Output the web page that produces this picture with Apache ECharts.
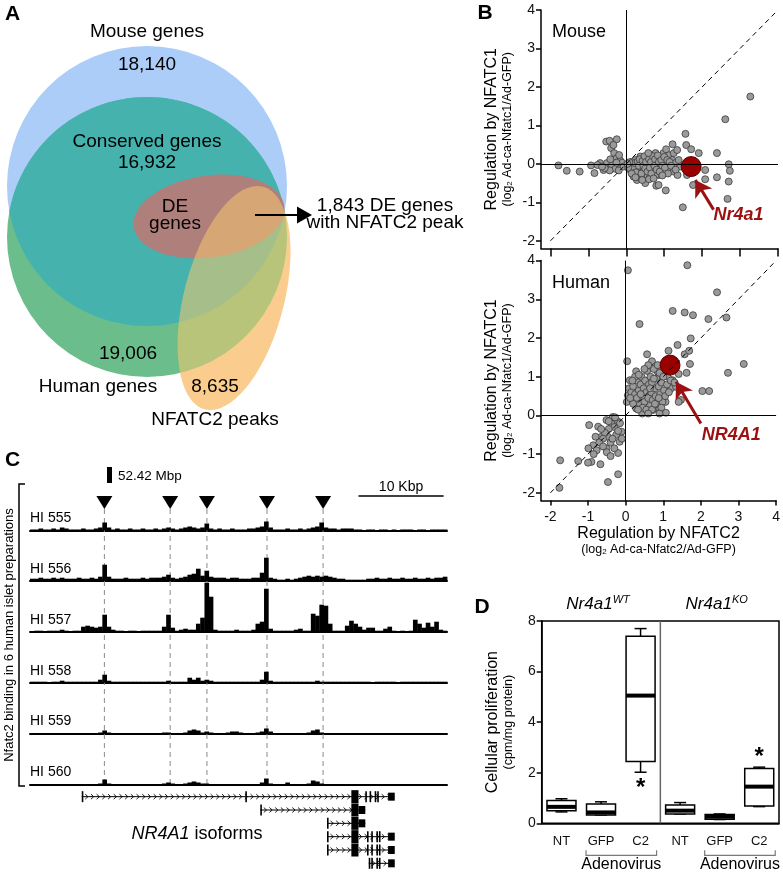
<!DOCTYPE html>
<html><head><meta charset="utf-8">
<script src="https://cdn.jsdelivr.net/npm/echarts@6/dist/echarts.min.js"></script>
<style>html,body{margin:0;padding:0;background:#fff}#c{width:783px;height:875px}</style>
</head><body><div id="c"></div>
<script>
// ---------------- DATA ----------------
// Panel A (Venn)
const vennNames = ['Mouse genes', 'Conserved genes', 'Human genes', 'NFATC2 peaks', 'DE genes'];
const vennCounts = ['18,140', '16,932', '19,006', '8,635'];
const deWithPeak = '1,843';

// Panel B: [NFATC2 log2FC, NFATC1 log2FC]
const mousePts = [
[-1.79,-0.04],[-1.57,-0.18],[-1.23,-0.20],[-0.93,-0.04],[-0.84,-0.24],[-0.69,0.02],[-0.60,-0.16],[-0.53,0.58],[-0.44,0.60],[-0.25,0.64],
[-0.40,0.41],[-0.32,0.28],[-0.25,0.15],[-0.16,0.09],[-0.51,0.02],[-0.38,-0.04],[-0.29,-0.13],[-0.16,-0.03],[-0.20,-0.17],[-0.11,0.03],
[-0.44,-0.17],[-0.57,-0.11],[-0.07,-0.07],[-0.76,-0.03],[-0.64,-0.07],[-0.42,0.12],[-0.26,0.03],[-0.19,0.23],[-0.34,0.49],
[0.15,-0.03],[0.24,0.10],[0.28,-0.11],[0.37,0.19],[0.41,0.02],[0.46,-0.16],[0.53,0.15],[0.59,-0.03],[0.63,0.23],[0.68,-0.16],
[0.72,0.10],[0.77,0.28],[0.81,-0.03],[0.85,-0.29],[0.90,0.15],[0.94,-0.11],[0.98,0.28],[1.06,0.02],[1.12,0.23],[1.16,-0.16],
[1.21,0.10],[0.19,-0.33],[0.28,-0.42],[0.37,-0.37],[0.50,-0.50],[0.55,-0.29],[0.77,-0.29],[0.79,-0.57],[0.85,-0.55],[1.04,-0.69],
[0.21,-0.20],[0.32,-0.26],[0.63,-0.33],[0.11,-0.16],[0.09,-0.05],[1.25,0.28],[1.29,0.02],[1.34,0.36],[1.22,0.51],[1.38,0.10],
[1.42,-0.07],[1.56,0.78],[1.58,0.49],[1.71,0.38],[1.91,0.28],[2.39,0.28],[2.61,1.16],[1.25,-0.20],[1.35,-0.29],[1.60,-0.29],
[1.76,-0.55],[2.08,-0.16],[2.08,-0.40],[2.39,-0.35],[2.70,-0.01],[2.73,-0.18],[2.70,-0.46],[2.67,-0.91],[1.49,-1.13],[3.27,1.75],
[0.12,0.05],[0.18,-0.08],[0.22,0.02],[0.26,-0.22],[0.30,0.06],[0.33,-0.05],[0.35,0.12],[0.40,-0.25],[0.43,0.08],[0.45,-0.05],
[0.48,0.20],[0.50,-0.12],[0.52,0.05],[0.56,-0.20],[0.60,0.12],[0.62,-0.10],[0.65,0.05],[0.66,-0.25],[0.70,0.20],[0.74,-0.05],
[0.76,0.12],[0.80,-0.15],[0.83,0.22],[0.86,0.05],[0.88,-0.20],[0.92,0.10],[0.95,-0.05],[1.00,0.18],[1.02,-0.10],[1.08,0.10],
[1.10,-0.25],[1.14,0.05],[1.18,-0.05],[1.30,-0.15],[0.14,-0.25],[0.24,-0.35],[0.42,-0.42],[0.60,-0.40],[0.72,-0.38],[0.95,-0.30],
[1.05,0.38],[0.58,0.28],[0.05,-0.10],[0.08,0.04],[0.03,0.00]
];
const mouseHit = [[1.71,-0.07]];
const humanPts = [
[1.25,2.70],[1.57,2.66],[1.79,2.59],[2.20,2.49],[2.68,2.53],[0.37,2.36],[1.73,1.99],[1.38,1.82],[0.57,1.58],[1.14,1.67],
[1.57,1.58],[1.69,1.67],[0.04,1.40],[0.70,1.40],[0.79,1.26],[1.71,1.33],[3.14,1.33],[2.72,1.10],[1.62,1.10],[1.41,1.07],
[0.28,1.14],[0.85,1.13],[2.04,0.63],[2.22,0.63],[1.47,0.40],[1.41,0.35],[0.11,0.91],[0.09,0.70],[0.06,0.52],[0.03,0.35],
[0.19,0.40],[0.28,0.18],[0.44,0.05],[0.72,0.14],[0.90,0.18],[1.07,0.07],[1.06,0.35],[1.21,0.70],[1.34,0.74],[1.25,0.91],
[1.12,1.00],[0.06,3.75],[1.64,3.88],[2.43,3.18],
[0.15,0.60],[0.20,0.75],[0.25,0.55],[0.30,0.90],[0.30,0.45],[0.35,0.65],[0.38,0.30],[0.40,0.80],[0.42,1.00],[0.45,0.50],
[0.48,0.70],[0.50,0.35],[0.52,0.90],[0.55,0.60],[0.57,1.15],[0.60,0.45],[0.62,0.80],[0.65,0.25],[0.66,1.00],[0.68,0.60],
[0.70,0.85],[0.72,0.40],[0.75,1.20],[0.78,0.70],[0.80,0.50],[0.82,0.95],[0.85,0.30],[0.88,0.75],[0.90,1.10],[0.92,0.55],
[0.95,0.85],[0.98,0.35],[1.00,1.00],[1.02,0.65],[1.05,0.50],[1.10,0.80],[1.15,0.60],[0.20,0.30],[0.25,1.00],[0.35,1.05],
[0.45,0.20],[0.55,0.15],[0.60,1.30],[0.70,0.15],[0.75,0.95],[0.85,1.30],[0.95,0.20],[0.12,0.45],[0.18,0.90],[0.40,0.55],
[0.50,1.20],[0.65,0.70],[0.78,0.30],[0.88,0.45],[1.08,1.20],[1.20,0.90],[0.33,0.15],[0.60,0.05],[0.90,0.05],[1.30,0.85],
[-0.97,-0.25],[-0.73,-0.29],[-0.51,-0.12],[-0.34,-0.04],[-0.38,-0.21],[-0.20,-0.16],[-0.11,-0.42],[-0.16,-0.68],[-0.47,-0.55],[-0.64,-0.55],
[-0.86,-0.77],[-0.99,-0.85],[-0.77,-0.90],[-0.91,-1.20],[-0.67,-1.26],[-0.51,-0.85],[-0.20,-0.97],[-1.26,-1.18],[-1.74,-1.16],[-0.20,-1.52],
[-0.47,-1.72],[-1.76,-1.87],[-0.30,-0.30],[-0.25,-0.50],[-0.45,-0.35],[-0.55,-0.45],[-0.60,-0.60],[-0.40,-0.70],[-0.30,-0.85],[-0.70,-0.70],
[-0.50,-0.95],[-0.35,-0.60],[-0.20,-0.40],[-0.15,-0.20],[-0.65,-0.35],[-0.80,-0.55],[-0.45,-0.15],[-0.28,-0.05],[-0.10,-0.60],[-0.40,-1.05],
[-0.60,-0.80],[-0.85,-1.00],[-1.00,-1.22]
];
const humanHit = [[1.18,1.30]];
const axisTicksB = [-2, -1, 0, 1, 2, 3, 4];
// arrows: [tail, tip], label position
const mouseArrow = [[2.30,-1.19],[1.82,-0.42]];
const mouseLabelAt = [2.96,-1.32];
const humanArrow = [[2.00,-0.21],[1.34,0.87]];
const humanLabelAt = [2.81,-0.51];

// Panel C: ChIP tracks, bins of 0.5 Kbp over 49 Kbp
const binKbp = 0.5;
const trackNames = ['HI 555','HI 556','HI 557','HI 558','HI 559','HI 560'];
const hi555 = [1,1,2,1,1,2,1,3,2,1, 1,1,2,1,1,2,3,8,3,1, 2,1,1,2,1,1,2,1,1,2, 1,2,3,2,1,2,3,4,3,2, 3,7,2,1,2,1,1,2,1,1,
  1,2,2,3,4,9,3,1,1,1, 2,1,1,2,1,2,3,4,8,3, 2,2,1,2,2,2,1,1,0,1, 1,0,1,1,0,1,0,1,1,1, 0,1,1,0,1,1,1,1];
const hi556 = [2,2,3,2,2,3,2,3,2,2, 2,3,2,2,3,2,4,16,4,2, 2,2,3,2,2,2,3,2,3,3, 3,4,6,3,2,3,4,6,7,12, 5,10,4,3,3,3,2,3,3,2,
  2,2,3,3,8,23,3,2,1,1, 2,1,2,3,4,5,4,5,4,5, 4,3,2,2,1,1,1,1,1,2, 2,3,2,2,3,2,2,3,2,2, 3,2,2,3,2,3,3,4];
const hi557 = [0,1,1,0,1,1,1,2,1,0, 1,1,5,6,5,4,5,17,5,2, 1,1,0,1,1,0,1,1,1,1, 1,5,17,4,1,2,3,2,2,8, 14,49,35,2,1,1,1,1,2,1,
  1,1,2,8,10,43,3,1,1,1, 1,1,2,3,1,1,18,16,27,26, 8,1,1,1,6,11,8,5,2,4, 4,1,1,3,5,1,0,1,0,1, 12,8,4,9,5,10,2,1];
const hi558 = [1,1,1,1,0,1,1,2,1,1, 1,1,1,1,1,1,3,8,2,1, 1,1,1,1,1,1,1,1,1,1, 1,1,2,1,1,1,1,5,3,5, 2,3,2,1,1,1,1,1,1,1,
  1,1,1,1,3,11,2,1,1,1, 1,1,1,1,1,1,1,2,1,1, 1,1,1,1,1,1,1,1,1,1, 0,1,1,1,1,1,0,1,1,1, 1,1,1,1,1,1,1,1];
const hi559 = [0.5,0,0.5,0.5,0,0.5,0.5,0.5,0,0.5, 0.5,0.5,0,0.5,0.5,0.5,1,3,1,0.5, 0.5,0.5,0,0.5,0.5,0,0.5,0.5,0,0.5,
  0.5,1,1,0.5,0.5,0.5,1,3,4,3, 1,2,1,0.5,0.5,0.5,1,2,2,1, 0.5,0.5,0.5,1,2,5,2,0.5,0.5,0, 0.5,0.5,0,0.5,0.5,1,3,4,1,0.5,
  0,0.5,0,0.5,0,0.5,0,0.5,0,0.5, 0,0,0.5,0,0.5,0,0,0.5,0,0, 0.5,0,0,0.5,0,0,0.5,0];
const hi560 = [0.5,0.5,0,0.5,0.5,0,0.5,0.5,0.5,0, 0.5,0.5,0.5,0,0.5,0.5,1,5,1,0.5, 0.5,0.5,0,0.5,0.5,0,0.5,0.5,0,0.5,
  0.5,1,2,1,0.5,0.5,1,2,3,2, 1,1,0.5,0.5,0.5,0.5,0.5,0.5,0.5,0.5, 0.5,0.5,0.5,0.5,2,6,1,0.5,0.5,0.5, 2,0.5,0.5,0.5,0.5,1,4,3,1,0.5,
  0,0.5,0,0.5,0,0.5,0.5,0,0.5,0, 0.5,0,0.5,0,0.5,0,0,0.5,0,0.5, 0,0.5,0.5,0,0.5,0,0.5,0];
const tracks = [hi555, hi556, hi557, hi558, hi559, hi560];
const peakKbp = [8.74, 16.47, 20.79, 27.85, 34.44];
const scaleBar = [38.6, 48.6]; // 10 Kbp
// NR4A1 isoforms (Kbp); exon kinds: c = coding, u = UTR, t = thin
const isoStart = [6.08, 27.06, 34.9, 34.9, 34.9, 39.8];
const isoEnd   = [42.8, 39.4, 39.4, 42.8, 42.8, 42.8];
const isoExons = [
  [[6.08,6.2,'t'],[25.3,25.4,'t'],[37.76,38.6,'c'],[39.4,39.5,'t'],[39.9,40.0,'t'],[40.5,40.6,'t'],[40.8,40.9,'t'],[42.08,42.86,'u']],
  [[27.06,27.16,'t'],[37.76,38.6,'c'],[38.6,39.4,'u']],
  [[34.9,35.0,'t'],[37.76,38.6,'c'],[38.6,39.4,'u']],
  [[34.9,35.0,'t'],[37.76,38.6,'c'],[39.6,39.7,'t'],[40.1,40.2,'t'],[40.7,40.8,'t'],[41.0,41.1,'t'],[42.08,42.86,'u']],
  [[34.9,35.0,'t'],[37.76,38.6,'c'],[39.6,39.7,'t'],[40.1,40.2,'t'],[40.7,40.8,'t'],[41.0,41.1,'t'],[42.08,42.86,'u']],
  [[39.8,39.9,'t'],[40.1,40.2,'t'],[40.7,40.8,'t'],[41.0,41.1,'t'],[42.08,42.86,'u']]
];

// Panel D: box plots
const boxCats = ['NT','GFP','C2','NT ','GFP ','C2 '];
const boxMin = [0.45, 0.33, 2.02, 0.37, 0.15, 0.66];
const boxQ1  = [0.50, 0.33, 2.44, 0.37, 0.16, 0.68];
const boxMed = [0.65, 0.43, 5.05, 0.50, 0.26, 1.45];
const boxQ3  = [0.90, 0.76, 7.40, 0.72, 0.35, 2.17];
const boxMax = [0.97, 0.85, 7.70, 0.82, 0.37, 2.22];
const sigY   = [null, null, 1.55, null, null, 2.75];
const genotypes = ['WT','KO'];
const groupFrom = [0, 3], groupTo = [2, 5];
const adenoFrom = [1, 4], adenoTo = [2, 5];

// ---------------- CHART ----------------
const FONT = '"Liberation Sans", Arial, Helvetica, sans-serif';
const chart = echarts.init(document.getElementById('c'), null, {renderer:'canvas'});

function T(x, y, text, size, extra) {
  return Object.assign({type:'text', x:x, y:y, silent:true,
    style: Object.assign({text:text, fontSize:size, fontFamily:FONT, fill:'#000',
      align:'center', verticalAlign:'middle', textAlign:'center', textVerticalAlign:'middle'}, (extra && extra.style) || {})},
    extra ? {rotation: extra.rotation || 0} : {});
}

const gray = {color:'#9a9a9a', borderColor:'#3a3a3a', borderWidth:0.8, opacity:1};
const red = {color:'#990000', borderColor:'#5c0000', borderWidth:1, opacity:1};
const darkRed = '#9b1010';

const trackBase = [530.5, 580.7, 631.7, 682.7, 733.5, 784.5];

const grids = [
  {left:541, top:10, width:237, height:238.5},
  {left:541, top:260.6, width:237, height:240},
  {left:541.7, top:621, width:237.3, height:202.3, show:true, borderColor:'#000', borderWidth:1.5},
];
trackBase.forEach(b => grids.push({left:30, top:b-48, width:417, height:48}));
grids.push({left:30, top:496, width:417, height:288.5});   // overlay (index 9)
grids.push({left:30, top:790, width:417, height:80});      // isoforms (index 10)

const tickLbl = {fontSize:14, color:'#111', fontFamily:FONT};
const richB = {
  a:{fontSize:16, lineHeight:18, color:'#000', fontFamily:FONT},
  b:{fontSize:12.5, lineHeight:13, color:'#000', fontFamily:FONT},
  s:{fontSize:8, lineHeight:13, color:'#000', fontFamily:FONT, verticalAlign:'bottom'}
};

const xAxes = [
  {gridIndex:0, type:'value', min:-2.25, max:4,
    axisLine:{onZero:false, lineStyle:{color:'#000', width:1.5}},
    axisTick:{customValues:axisTicksB, length:8, lineStyle:{color:'#000', width:1.5}},
    axisLabel:{show:false}, splitLine:{show:false}},
  {gridIndex:1, type:'value', min:-2.25, max:4,
    axisLine:{onZero:false, lineStyle:{color:'#000', width:1.5}},
    axisTick:{customValues:axisTicksB, length:5, lineStyle:{color:'#000', width:1.5}},
    axisLabel:Object.assign({customValues:axisTicksB, margin:10}, tickLbl), splitLine:{show:false},
    name:'{a|Regulation by NFATC2}\n{b|(log}{s|2}{b| Ad-ca-Nfatc2/Ad-GFP)}', nameLocation:'middle', nameGap:24,
    nameTextStyle:{rich:richB}},
  {gridIndex:2, type:'category', data:boxCats,
    axisLine:{lineStyle:{color:'#000', width:1.5}},
    axisTick:{alignWithLabel:true, length:4, lineStyle:{color:'#000', width:1.2}},
    axisLabel:{fontSize:13, color:'#111', margin:12, fontFamily:FONT, formatter: v => v.trim()}, splitLine:{show:false}},
];
const yAxes = [
  {gridIndex:0, type:'value', min:-2.2, max:4,
    axisLine:{onZero:false, lineStyle:{color:'#000', width:1.5}},
    axisTick:{customValues:axisTicksB, length:5, lineStyle:{color:'#000', width:1.5}},
    axisLabel:Object.assign({customValues:axisTicksB, margin:6}, tickLbl), splitLine:{show:false},
    name:'{a|Regulation by NFATC1}\n{b|(log}{s|2}{b| Ad-ca-Nfatc1/Ad-GFP)}', nameLocation:'middle', nameGap:27, nameRotate:90,
    nameTextStyle:{rich:richB}},
  {gridIndex:1, type:'value', min:-2.2, max:4,
    axisLine:{onZero:false, lineStyle:{color:'#000', width:1.5}},
    axisTick:{customValues:axisTicksB, length:5, lineStyle:{color:'#000', width:1.5}},
    axisLabel:Object.assign({customValues:axisTicksB, margin:6}, tickLbl), splitLine:{show:false},
    name:'{a|Regulation by NFATC1}\n{b|(log}{s|2}{b| Ad-ca-Nfatc1/Ad-GFP)}', nameLocation:'middle', nameGap:27, nameRotate:90,
    nameTextStyle:{rich:richB}},
  {gridIndex:2, type:'value', min:0, max:8, interval:2,
    axisLine:{show:true, lineStyle:{color:'#000', width:1.5}},
    axisTick:{show:true, length:5, lineStyle:{color:'#000', width:1.5}},
    axisLabel:Object.assign({margin:6}, tickLbl), splitLine:{show:false},
    name:'{a|Cellular proliferation}\n{b|(cpm/mg protein)}', nameLocation:'middle', nameGap:27, nameRotate:90,
    nameTextStyle:{rich:richB}},
];
for (let g = 3; g <= 8; g++) {
  xAxes.push({gridIndex:g, type:'value', min:0, max:49, axisLine:{show:true, lineStyle:{color:'#000', width:2}},
    axisTick:{show:false}, axisLabel:{show:false}, splitLine:{show:false}});
  yAxes.push({gridIndex:g, type:'value', min:0, max:48, show:false});
}
xAxes.push({gridIndex:9, type:'value', min:0, max:49, show:false});
yAxes.push({gridIndex:9, type:'value', min:0, max:1, show:false});
xAxes.push({gridIndex:10, type:'value', min:0, max:49, show:false});
yAxes.push({gridIndex:10, type:'category', data:isoStart.map((s,i)=>'iso'+i), inverse:true, show:false});

const series = [];
// ---- Panel B
function refLines(ax) {
  return {type:'line', xAxisIndex:ax, yAxisIndex:ax, data:[], z:1, silent:true,
    markLine:{silent:true, symbol:['none','none'], label:{show:false}, animation:false,
      lineStyle:{color:'#000', width:1, type:'solid'},
      data:[{xAxis:0}, {yAxis:0},
        [{coord:[-2,-2], lineStyle:{type:[5,4], color:'#000', width:1}}, {coord:[4,4]}]]}};
}
function arrowSeries(ax, arr) {
  return {type:'line', xAxisIndex:ax, yAxisIndex:ax, data:[], z:5, silent:true,
    markLine:{silent:true, symbol:['none','arrow'], symbolSize:[15,16], label:{show:false}, animation:false,
      lineStyle:{color:darkRed, width:3, type:'solid', opacity:1},
      data:[[{coord:arr[0]}, {coord:arr[1]}]]}};
}
function labelSeries(ax, at, txt) {
  return {type:'scatter', xAxisIndex:ax, yAxisIndex:ax, data:[at], symbolSize:0, z:6, silent:true, itemStyle:{opacity:1},
    label:{show:true, position:'inside', formatter:txt, color:darkRed, fontSize:18, fontWeight:'bold', fontStyle:'italic', fontFamily:FONT, opacity:1}};
}
series.push(refLines(0));
series.push({type:'scatter', xAxisIndex:0, yAxisIndex:0, data:mousePts, symbolSize:7, itemStyle:gray, z:3});
series.push({type:'scatter', xAxisIndex:0, yAxisIndex:0, data:mouseHit, symbolSize:20, itemStyle:red, z:4});
series.push(arrowSeries(0, mouseArrow));
series.push(labelSeries(0, mouseLabelAt, 'Nr4a1'));
series.push(refLines(1));
series.push({type:'scatter', xAxisIndex:1, yAxisIndex:1, data:humanPts, symbolSize:7, itemStyle:gray, z:3});
series.push({type:'scatter', xAxisIndex:1, yAxisIndex:1, data:humanHit, symbolSize:20, itemStyle:red, z:4});
series.push(arrowSeries(1, humanArrow));
series.push(labelSeries(1, humanLabelAt, 'NR4A1'));

// ---- Panel D
const boxData = boxCats.map((c,i) => [i, boxMin[i], boxQ1[i], boxMed[i], boxQ3[i], boxMax[i]]);
series.push({type:'custom', xAxisIndex:2, yAxisIndex:2, data:boxData, z:3, silent:true,
  encode:{x:0, y:[1,2,3,4,5]},
  renderItem:function(params, api){
    const i = api.value(0);
    const cx = api.coord([i, 0])[0];
    const bw = 29, cap = 12;
    const Y = v => api.coord([i, v])[1];
    const yMin = Y(api.value(1)), yQ1 = Y(api.value(2)), yMed = Y(api.value(3)), yQ3 = Y(api.value(4)), yMax = Y(api.value(5));
    const ls = {stroke:'#000', lineWidth:1.5};
    const ch = [
      {type:'line', shape:{x1:cx, y1:yMax, x2:cx, y2:yQ3}, style:ls},
      {type:'line', shape:{x1:cx, y1:yQ1, x2:cx, y2:yMin}, style:ls},
      {type:'line', shape:{x1:cx-cap/2, y1:yMax, x2:cx+cap/2, y2:yMax}, style:ls},
      {type:'line', shape:{x1:cx-cap/2, y1:yMin, x2:cx+cap/2, y2:yMin}, style:ls},
      {type:'rect', shape:{x:cx-bw/2, y:yQ3, width:bw, height:Math.max(yQ1-yQ3, 1)}, style:{fill:'#fff', stroke:'#000', lineWidth:1.5}},
      {type:'line', shape:{x1:cx-bw/2, y1:yMed, x2:cx+bw/2, y2:yMed}, style:{stroke:'#000', lineWidth:4}}
    ];
    if (sigY[i] != null) {
      ch.push({type:'text', x:cx, y:Y(sigY[i]) + 4, style:{text:'*', fontSize:24, fontWeight:'bold', fontFamily:FONT, fill:'#000',
        align:'center', verticalAlign:'middle', textAlign:'center', textVerticalAlign:'middle'}});
    }
    return {type:'group', children:ch};
  }});
series.push({type:'custom', xAxisIndex:2, yAxisIndex:2, data:genotypes.map((g,k)=>[groupFrom[k], groupTo[k], adenoFrom[k], adenoTo[k]]),
  z:4, silent:true, encode:{x:[0,1]},
  renderItem:function(params, api){
    const k = params.dataIndex;
    const band = api.size([1, 0])[0];
    const cs = params.coordSys;
    const xa = api.coord([api.value(0), 0])[0] - band/2;
    const xb = api.coord([api.value(1), 0])[0] + band/2;
    const ch = [];
    ch.push({type:'text', x:(xa+xb)/2 - 3, y:cs.y - 17, style:{text:'{a|Nr4a1}{b|' + genotypes[k] + '}',
      rich:{a:{fontSize:17, fontStyle:'italic', fontFamily:FONT, fill:'#000', lineHeight:20},
            b:{fontSize:11, fontStyle:'italic', fontFamily:FONT, fill:'#000', lineHeight:20, verticalAlign:'top', padding:[0,0,8,0]}},
      align:'center', verticalAlign:'middle', textAlign:'center', textVerticalAlign:'middle'}});
    if (k < genotypes.length - 1) {
      ch.push({type:'line', shape:{x1:xb, y1:cs.y, x2:xb, y2:cs.y+cs.height}, style:{stroke:'#666', lineWidth:1.5}});
    }
    const bx1 = api.coord([api.value(2), 0])[0] - 15;
    const bx2 = api.coord([api.value(3), 0])[0] + 16;
    const by = cs.y + cs.height + 32;
    ch.push({type:'polyline', shape:{points:[[bx1, by-5],[bx1, by],[bx2, by],[bx2, by-5]]}, style:{stroke:'#7a7a7a', lineWidth:1.2, fill:null}});
    ch.push({type:'text', x:(bx1+bx2)/2, y:by + 9, style:{text:'Adenovirus', fontSize:16, fontFamily:FONT, fill:'#000',
      align:'center', verticalAlign:'middle', textAlign:'center', textVerticalAlign:'middle'}});
    return {type:'group', children:ch};
  }});

// ---- Panel C tracks
tracks.forEach((arr, t) => {
  series.push({type:'custom', xAxisIndex:3+t, yAxisIndex:3+t, silent:true, z:3,
    data:arr.map((h, i) => [i*binKbp, h]), encode:{x:0, y:1},
    renderItem:function(params, api){
      const x0 = api.value(0), h = api.value(1);
      if (!(h > 0)) return;
      const p0 = api.coord([x0, 0]), p1 = api.coord([x0 + binKbp, h]);
      return {type:'rect', shape:{x:p0[0], y:p1[1], width:p1[0]-p0[0]+0.4, height:p0[1]-p1[1]}, style:{fill:'#000'}};
    }});
});
series.push({type:'custom', xAxisIndex:9, yAxisIndex:9, silent:true, z:2, data:peakKbp.map(k => [k, 1]), encode:{x:0, y:1},
  renderItem:function(params, api){
    const pt = api.coord([api.value(0), 1]);
    const pb = api.coord([api.value(0), 0]);
    return {type:'group', children:[
      {type:'line', shape:{x1:pt[0], y1:pt[1]+13, x2:pb[0], y2:pb[1]}, style:{stroke:'#8a8a8a', lineWidth:1, lineDash:[5,4]}},
      {type:'polygon', shape:{points:[[pt[0]-8, pt[1]],[pt[0]+8, pt[1]],[pt[0], pt[1]+13]]}, style:{fill:'#000'}}
    ]};
  }});
series.push({type:'custom', xAxisIndex:9, yAxisIndex:9, silent:true, z:2, data:[[scaleBar[0], scaleBar[1], 1]], encode:{x:[0,1]},
  renderItem:function(params, api){
    const a = api.coord([api.value(0), api.value(2)]);
    const b = api.coord([api.value(1), api.value(2)]);
    return {type:'group', children:[
      {type:'line', shape:{x1:a[0], y1:a[1], x2:b[0], y2:b[1]}, style:{stroke:'#000', lineWidth:1.5}},
      {type:'text', x:(a[0]+b[0])/2, y:a[1]-9, style:{text:(api.value(1)-api.value(0)).toFixed(0) + ' Kbp', fontSize:14, fontFamily:FONT, fill:'#000',
        align:'center', verticalAlign:'middle', textAlign:'center', textVerticalAlign:'middle'}}
    ]};
  }});
// isoforms
series.push({type:'custom', xAxisIndex:10, yAxisIndex:10, silent:true, z:3,
  data:isoStart.map((s,i) => [i, s, isoEnd[i]]), encode:{y:0, x:[1,2]},
  renderItem:function(params, api){
    const row = api.value(0);
    const a = api.coord([api.value(1), row]), b = api.coord([api.value(2), row]);
    const y = a[1];
    const ch = [{type:'line', shape:{x1:a[0], y1:y, x2:b[0], y2:y}, style:{stroke:'#000', lineWidth:1}}];
    for (let x = a[0] + 5; x < b[0] - 3; x += 5.7) {
      ch.push({type:'polyline', shape:{points:[[x-1.5, y-2.5],[x+1.2, y],[x-1.5, y+2.5]]}, style:{stroke:'#000', lineWidth:0.9, fill:null}});
    }
    isoExons[row].forEach(e => {
      const p = api.coord([e[0], row])[0], q = api.coord([e[1], row])[0];
      const h = e[2] === 'c' ? 13 : (e[2] === 'u' ? 8 : 11);
      const w = e[2] === 't' ? 1.6 : Math.max(q - p, 1.6);
      ch.push({type:'rect', shape:{x:p, y:y-h/2, width:w, height:h}, style:{fill:'#000'}});
    });
    return {type:'group', children:ch};
  }});

// ---------------- GRAPHIC (Venn + texts) ----------------
// lens = intersection of mouse (blue) and human (green) circles, traced along both arcs
function lensPoints() {
  const pts = [];
  const a0 = 0.1831, n = 60;
  for (let k = 0; k <= n; k++) { const t = Math.PI + a0 + (Math.PI - 2*a0) * k / n; pts.push([147 + 140*Math.cos(t), 237 + 140*Math.sin(t)]); }
  for (let k = 0; k <= n; k++) { const t = a0 + (Math.PI - 2*a0) * k / n; pts.push([147 + 140*Math.cos(t), 186 + 140*Math.sin(t)]); }
  return pts;
}
const VF = 19;
const vennEls = [
  {type:'ellipse', x:234, y:298, rotation:-0.255, shape:{cx:0, cy:0, rx:50, ry:115}, style:{fill:'rgb(255,211,181)'}, silent:true},
  {type:'circle', shape:{cx:147, cy:186, r:140}, style:{fill:'#abcdf7'}, silent:true},
  {type:'circle', shape:{cx:147, cy:237, r:140}, style:{fill:'#6bbe8b'}, silent:true},
  {type:'polygon', shape:{points:lensPoints()}, style:{fill:'#45b2ad'}, silent:true},
  {type:'ellipse', x:209, y:216.5, rotation:0.14, shape:{cx:0, cy:0, rx:76, ry:41}, style:{fill:'#af7f7c'}, silent:true},
  {type:'ellipse', x:234, y:298, rotation:-0.255, shape:{cx:0, cy:0, rx:50, ry:115}, style:{fill:'rgba(245,200,110,0.55)'}, silent:true},
  {type:'line', shape:{x1:255, y1:215, x2:299, y2:215}, style:{stroke:'#000', lineWidth:2}, silent:true},
  {type:'polygon', shape:{points:[[297,206.5],[312,215],[297,223.5]]}, style:{fill:'#000'}, silent:true},
  T(147, 32, vennNames[0], VF), T(147, 65, vennCounts[0], VF),
  T(147, 142, vennNames[1], VF), T(147, 163, vennCounts[1], VF),
  {type:'text', x:175, y:215.5, silent:true, style:{text:'DE\ngenes', fontSize:VF, lineHeight:17, fontFamily:FONT, fill:'#000', align:'center', verticalAlign:'middle', textAlign:'center', textVerticalAlign:'middle'}},
  {type:'text', x:385, y:214, silent:true, style:{text:deWithPeak + ' DE genes\nwith NFATC2 peak', fontSize:VF, lineHeight:17, fontFamily:FONT, fill:'#000', align:'center', verticalAlign:'middle', textAlign:'center', textVerticalAlign:'middle'}},
  T(128, 354, vennCounts[2], VF), T(98, 387, vennNames[2], VF),
  T(215, 387, vennCounts[3], VF), T(215, 420, vennNames[3], VF),
];
const letterStyle = {style:{fontWeight:'bold'}};
const otherEls = [
  T(12.5, 14, 'A', 21, letterStyle), T(485, 13, 'B', 21, letterStyle), T(12.5, 460, 'C', 21, letterStyle), T(482, 607, 'D', 21, letterStyle),
  T(552, 32, 'Mouse', 18, {style:{align:'left', textAlign:'left'}}),
  T(552, 283, 'Human', 18, {style:{align:'left', textAlign:'left'}}),
  {type:'rect', shape:{x:107, y:467, width:5, height:16}, style:{fill:'#000'}, silent:true},
  T(118, 476, '52.42 Mbp', 13.5, {style:{align:'left', textAlign:'left'}}),
  {type:'polyline', shape:{points:[[25,484],[19,484],[19,786],[25,786]]}, style:{stroke:'#000', lineWidth:1.5, fill:null}, silent:true},
  T(9, 635, 'Nfatc2 binding in 6 human islet preparations', 13, {rotation:Math.PI/2}),
  {type:'text', x:197, y:834, silent:true, style:{text:'{i|NR4A1} isoforms', fontSize:18, fontFamily:FONT, fill:'#000',
    rich:{i:{fontSize:18, fontStyle:'italic', fontFamily:FONT, fill:'#000'}},
    align:'center', verticalAlign:'middle', textAlign:'center', textVerticalAlign:'middle'}},
];
trackNames.forEach((n, t) => otherEls.push(T(30, trackBase[t] - 12, n, 14, {style:{align:'left', textAlign:'left'}})));

chart.setOption({
  animation:false,
  backgroundColor:'#fff',
  textStyle:{fontFamily:FONT},
  grid:grids, xAxis:xAxes, yAxis:yAxes, series:series,
  graphic:{elements: vennEls.concat(otherEls)}
});
</script>
</body></html>
